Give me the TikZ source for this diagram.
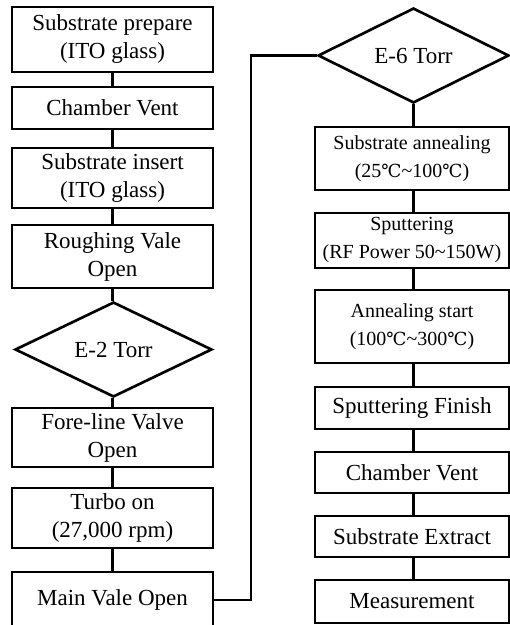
\documentclass[tikz,border=0pt]{standalone}
\usepackage{fontspec}
\setmainfont{Liberation Serif}
\newfontfamily\degfont[Scale=0.9]{DejaVu Serif}
\usetikzlibrary{shapes.geometric}
\newcommand\bigf{\fontsize{17.25}{21}\selectfont}
\newcommand\smallf{\fontsize{15}{21}\selectfont}
\newcommand\degc{{\degfont ℃}}
\newcommand\tl{\textasciitilde}
\begin{document}
\begin{tikzpicture}[x=0.75pt,y=-0.75pt,
  line width=2pt,
  box/.style={draw, rectangle, inner sep=0pt, align=center, font=\bigf},
  lbox/.style={box, minimum width=201*0.75pt},
  rbox/.style={box, minimum width=194*0.75pt},
  dia/.style={draw, diamond, inner sep=0pt, align=center, font=\bigf,
    minimum width=#1*0.75pt, minimum height=95*0.75pt},
  link/.style={draw, line width=2pt}]
\useasboundingbox (0,0) rectangle (510,625);
\clip (0,0) rectangle (510,625);
% left column
\node[lbox, minimum height=65*0.75pt] (L1) at (112.5,39.5) {Substrate prepare\\(ITO glass)};
\node[lbox, minimum height=42*0.75pt] (L2) at (112.5,108) {Chamber Vent};
\node[lbox, minimum height=60*0.75pt] (L3) at (112.5,178) {Substrate insert\\(ITO glass)};
\node[lbox, minimum height=63*0.75pt] (L4) at (112.5,256.5) {Roughing Vale\\Open};
\node[dia=197] (D1) at (113.5,349.5) {E-2 Torr};
\node[lbox, minimum height=59*0.75pt] (L5) at (112.5,437.5) {Fore-line Valve\\Open};
\node[lbox, minimum height=60*0.75pt] (L6) at (112.5,518) {Turbo on\\(27,000 rpm)};
\node[lbox, minimum height=56*0.75pt] (L7) at (112.5,600) {Main Vale Open};
% right column
\node[dia=191] (D2) at (413.5,55.5) {E-6 Torr};
\node[rbox, minimum height=63*0.75pt, font=\smallf] (R1) at (412,158.5) {Substrate annealing\\(25\degc\tl100\degc)};
\node[rbox, minimum height=55*0.75pt, font=\smallf] (R2) at (412,240.5) {Sputtering\\(RF Power 50\tl150W)};
\node[rbox, minimum height=73*0.75pt, font=\smallf] (R3) at (412,326.5) {Annealing start\\(100\degc\tl300\degc)};
\node[rbox, minimum height=42*0.75pt] (R4) at (412,408) {Sputtering Finish};
\node[rbox, minimum height=41*0.75pt] (R5) at (412,472.5) {Chamber Vent};
\node[rbox, minimum height=41*0.75pt] (R6) at (412,536.5) {Substrate Extract};
\node[rbox, minimum height=43*0.75pt] (R7) at (412,601.5) {Measurement};
% connectors left
\draw[link] (L1.south) -- (L2.north);
\draw[link] (L2.south) -- (L3.north);
\draw[link] (L3.south) -- (L4.north);
\draw[link] (L4.south) -- (L4.south |- D1.north);
\draw[link] (D1.south -| L5.north) -- (L5.north);
\draw[link] (L5.south) -- (L6.north);
\draw[link] (L6.south) -- (L7.north);
% cross connector
\coordinate (J) at (251,55.5);
\draw[link] (L7.east) -| (J) -- (D2.west);
% connectors right
\draw[link] (D2.south) -- (D2.south |- R1.north);
\draw[link] (D2.south |- R1.south) -- (D2.south |- R2.north);
\draw[link] (D2.south |- R2.south) -- (D2.south |- R3.north);
\draw[link] (D2.south |- R3.south) -- (D2.south |- R4.north);
\draw[link] (D2.south |- R4.south) -- (D2.south |- R5.north);
\draw[link] (D2.south |- R5.south) -- (D2.south |- R6.north);
\draw[link] (D2.south |- R6.south) -- (D2.south |- R7.north);
\end{tikzpicture}
\end{document}
